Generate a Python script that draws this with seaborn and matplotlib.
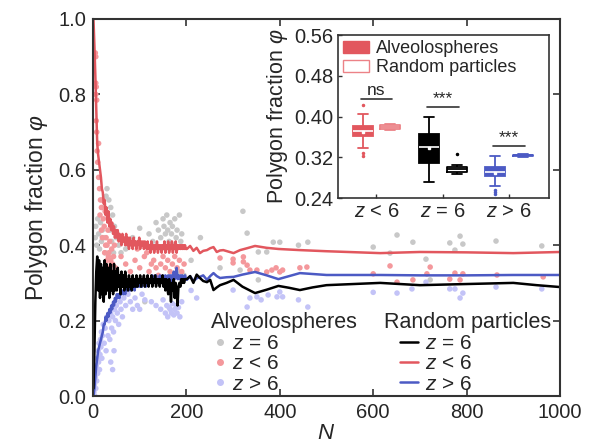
import numpy as np
import pandas as pd
import matplotlib
matplotlib.use("Agg")
import matplotlib.pyplot as plt
from matplotlib.lines import Line2D
from matplotlib.patches import Patch
import seaborn as sns

############### Data ###############
# random particles, dense part: N = 1, 3, ..., 199
N_dense = list(range(1, 200, 2))
rand_lt6_dense = [1.00, 0.93, 0.85, 0.76, 0.67, 0.64, 0.62, 0.60, 0.58, 0.55,
                  0.54, 0.51, 0.52, 0.48, 0.50, 0.46, 0.49, 0.45, 0.47, 0.44,
                  0.46, 0.43, 0.45, 0.42, 0.44, 0.42, 0.44, 0.41, 0.43, 0.42,
                  0.40, 0.43, 0.41, 0.42, 0.40, 0.43, 0.40, 0.42, 0.39, 0.42,
                  0.40, 0.41, 0.39, 0.42, 0.40, 0.41, 0.39, 0.41, 0.40, 0.42,
                  0.39, 0.41, 0.40, 0.41, 0.39, 0.41, 0.40, 0.39, 0.41, 0.39,
                  0.40, 0.38, 0.41, 0.39, 0.40, 0.38, 0.40, 0.39, 0.41, 0.38,
                  0.40, 0.39, 0.40, 0.38, 0.40, 0.39, 0.41, 0.38, 0.40, 0.39,
                  0.41, 0.38, 0.40, 0.39, 0.41, 0.38, 0.40, 0.39, 0.41, 0.38,
                  0.40, 0.39, 0.40, 0.39, 0.40, 0.39, 0.40, 0.39, 0.40, 0.39]
rand_eq6_dense = [0.02, 0.12, 0.25, 0.33, 0.37, 0.28, 0.36, 0.26, 0.35, 0.27,
                  0.34, 0.25, 0.36, 0.27, 0.35, 0.28, 0.34, 0.26, 0.35, 0.28,
                  0.33, 0.27, 0.35, 0.28, 0.33, 0.28, 0.34, 0.29, 0.32, 0.27,
                  0.33, 0.29, 0.32, 0.28, 0.33, 0.29, 0.31, 0.28, 0.32, 0.29,
                  0.31, 0.28, 0.32, 0.29, 0.31, 0.29, 0.32, 0.29, 0.31, 0.30,
                  0.32, 0.29, 0.31, 0.30, 0.32, 0.29, 0.31, 0.30, 0.32, 0.29,
                  0.31, 0.30, 0.32, 0.29, 0.31, 0.30, 0.32, 0.29, 0.31, 0.30,
                  0.31, 0.29, 0.31, 0.30, 0.32, 0.29, 0.31, 0.28, 0.31, 0.29,
                  0.27, 0.31, 0.29, 0.25, 0.30, 0.28, 0.31, 0.26, 0.30, 0.28,
                  0.24, 0.29, 0.30, 0.29, 0.31, 0.30, 0.31, 0.30, 0.31, 0.31]
rand_gt6_dense = [0.00, 0.02, 0.05, 0.08, 0.10, 0.12, 0.13, 0.14, 0.15, 0.16,
                  0.17, 0.19, 0.19, 0.21, 0.20, 0.22, 0.21, 0.23, 0.22, 0.24,
                  0.23, 0.25, 0.24, 0.26, 0.25, 0.27, 0.26, 0.27, 0.26, 0.28,
                  0.27, 0.28, 0.27, 0.28, 0.27, 0.29, 0.28, 0.29, 0.28, 0.29,
                  0.28, 0.30, 0.29, 0.30, 0.28, 0.30, 0.29, 0.30, 0.29, 0.31,
                  0.29, 0.30, 0.29, 0.31, 0.30, 0.31, 0.29, 0.31, 0.30, 0.31,
                  0.30, 0.31, 0.30, 0.32, 0.30, 0.31, 0.30, 0.32, 0.30, 0.31,
                  0.30, 0.32, 0.31, 0.30, 0.32, 0.31, 0.30, 0.32, 0.31, 0.30,
                  0.32, 0.31, 0.32, 0.30, 0.32, 0.31, 0.33, 0.31, 0.32, 0.34,
                  0.31, 0.32, 0.31, 0.32, 0.31, 0.32, 0.31, 0.31, 0.32, 0.31]

# random particles, sparse part (N > 200)
N_late_eq6 = [201, 208, 215, 222, 229, 236, 244, 251, 258, 265, 272, 286, 301, 320,
              347, 372, 397, 420, 443, 470, 500, 560, 615, 700, 800, 900, 950, 1000]
rand_eq6_late = [0.31, 0.318, 0.30, 0.322, 0.313, 0.305, 0.302, 0.308, 0.281, 0.288,
                 0.294, 0.30, 0.308, 0.29, 0.273, 0.282, 0.292, 0.287, 0.281, 0.288,
                 0.294, 0.297, 0.30, 0.294, 0.297, 0.30, 0.294, 0.289]
N_late_lt6 = [201, 208, 215, 222, 229, 236, 244, 251, 258, 265, 272, 279, 290,
              301, 315, 330, 347, 372, 397, 443, 500, 615, 700, 800, 900, 1000]
rand_lt6_late = [0.39, 0.398, 0.385, 0.393, 0.379, 0.385, 0.387, 0.392, 0.395, 0.382,
                 0.386, 0.387, 0.383, 0.379, 0.387, 0.392, 0.398, 0.393, 0.39, 0.387,
                 0.384, 0.379, 0.382, 0.381, 0.379, 0.382]
N_late_gt6 = [201, 208, 215, 222, 229, 236, 244, 251, 258, 265, 272, 286, 301,
              320, 347, 372, 397, 420, 443, 500, 615, 700, 800, 900, 1000]
rand_gt6_late = [0.308, 0.318, 0.305, 0.312, 0.316, 0.32, 0.308, 0.318, 0.326, 0.318,
                 0.313, 0.315, 0.316, 0.322, 0.329, 0.32, 0.31, 0.318, 0.326, 0.321,
                 0.321, 0.32, 0.32, 0.321, 0.321]

# alveolospheres (scatter)
alv_eq6_N = [5, 6, 8, 10, 12, 14, 16, 18, 20, 22,
             24, 26, 28, 30, 32, 34, 36, 38, 40, 42,
             44, 46, 50, 55, 60, 70, 85, 100, 111, 120,
             128, 135, 140, 145, 150, 152, 155, 158, 160, 163,
             165, 168, 170, 173, 175, 178, 180, 183, 185, 188,
             190, 195, 210, 230, 272, 315, 321, 330, 354, 354,
             372, 386, 400, 440, 460, 600, 636, 651, 685, 713,
             722, 764, 775, 786, 792, 863, 961]
alv_eq6 = [0.42, 0.45, 0.40, 0.47, 0.43, 0.39, 0.46, 0.41, 0.44, 0.50,
           0.42, 0.38, 0.53, 0.55, 0.47, 0.52, 0.44, 0.50, 0.41, 0.48,
           0.38, 0.45, 0.42, 0.40, 0.38, 0.39, 0.42, 0.445, 0.25, 0.43,
           0.41, 0.46, 0.44, 0.42, 0.47, 0.45, 0.43, 0.48, 0.44, 0.41,
           0.46, 0.43, 0.45, 0.40, 0.47, 0.42, 0.44, 0.33, 0.48, 0.41,
           0.43, 0.32, 0.36, 0.42, 0.34, 0.334, 0.49, 0.432, 0.382, 0.308,
           0.382, 0.408, 0.408, 0.40, 0.408, 0.395, 0.379, 0.427, 0.408, 0.363,
           0.308, 0.406, 0.387, 0.424, 0.403, 0.411, 0.398]
alv_lt6_N = [5, 6, 6, 7, 6, 8, 7, 8, 12, 9,
             10, 12, 14, 16, 18, 20, 22, 24, 26, 28,
             30, 32, 34, 36, 38, 40, 42, 44, 46, 48,
             30, 25, 35, 20, 15, 18, 27, 33, 39, 45,
             60, 70, 80, 90, 100, 110, 120, 125, 130, 135,
             140, 145, 150, 155, 160, 165, 170, 175, 180, 185,
             190, 195, 115, 95, 272, 300, 300, 322, 322, 330,
             336, 351, 372, 383, 392, 400, 406, 443, 458, 600,
             636, 651, 685, 715, 722, 764, 775, 786, 792, 865,
             964]
alv_lt6 = [0.91, 0.90, 0.83, 0.82, 0.80, 0.785, 0.73, 0.70, 0.67, 0.65,
           0.62, 0.58, 0.55, 0.52, 0.50, 0.52, 0.47, 0.45, 0.49, 0.42,
           0.40, 0.44, 0.38, 0.41, 0.36, 0.39, 0.35, 0.37, 0.40, 0.34,
           0.36, 0.38, 0.34, 0.42, 0.48, 0.44, 0.40, 0.37, 0.35, 0.33,
           0.37, 0.35, 0.33, 0.36, 0.34, 0.37, 0.33, 0.35, 0.36, 0.34,
           0.32, 0.35, 0.37, 0.34, 0.36, 0.33, 0.35, 0.37, 0.34, 0.36,
           0.33, 0.35, 0.38, 0.39, 0.366, 0.363, 0.353, 0.369, 0.356, 0.347,
           0.334, 0.334, 0.329, 0.334, 0.34, 0.329, 0.334, 0.34, 0.342, 0.324,
           0.345, 0.302, 0.308, 0.324, 0.342, 0.31, 0.326, 0.308, 0.324, 0.321,
           0.316]
alv_gt6_N = [2, 3, 4, 5, 6, 7, 8, 9, 10, 11,
             12, 13, 14, 15, 16, 17, 18, 19, 20, 22,
             24, 26, 28, 30, 32, 34, 36, 38, 40, 42,
             44, 46, 48, 50, 52, 55, 58, 60, 63, 66,
             70, 75, 80, 85, 90, 95, 100, 105, 111, 125,
             135, 145, 150, 155, 158, 160, 163, 165, 168, 170,
             173, 175, 178, 180, 183, 186, 190, 38, 45, 42,
             210, 222, 300, 330, 336, 351, 360, 375, 394, 400,
             406, 440, 460, 600, 651, 683, 713, 764, 775, 786,
             792, 863, 961]
alv_gt6 = [0.01, 0.03, 0.00, 0.05, 0.02, 0.08, 0.04, 0.10, 0.06, 0.12,
           0.09, 0.14, 0.07, 0.11, 0.15, 0.13, 0.17, 0.10, 0.16, 0.19,
           0.14, 0.18, 0.12, 0.21, 0.16, 0.20, 0.15, 0.22, 0.18, 0.21,
           0.17, 0.23, 0.20, 0.24, 0.22, 0.19, 0.25, 0.23, 0.21, 0.26,
           0.24, 0.27, 0.25, 0.23, 0.26, 0.24, 0.23, 0.27, 0.255, 0.25,
           0.24, 0.23, 0.255, 0.22, 0.24, 0.21, 0.235, 0.23, 0.22, 0.245,
           0.215, 0.23, 0.24, 0.22, 0.235, 0.21, 0.25, 0.09, 0.12, 0.07,
           0.28, 0.26, 0.281, 0.236, 0.26, 0.263, 0.255, 0.268, 0.263, 0.276,
           0.263, 0.255, 0.236, 0.275, 0.273, 0.284, 0.302, 0.284, 0.284, 0.26,
           0.273, 0.289, 0.284]

# inset box plot samples (chosen so quartiles/whiskers match the picture)
box_groups = ["$z$ < 6", "$z$ = 6", "$z$ > 6"]
alv_box_lt6 = [0.322, 0.328, 0.338, 0.361, 0.364, 0.368, 0.371, 0.375, 0.379, 0.382, 0.392, 0.405, 0.423]
rnd_box_lt6 = [0.373, 0.374, 0.3745, 0.375, 0.377, 0.378, 0.379, 0.380, 0.381, 0.383, 0.384, 0.3845, 0.385]
alv_box_eq6 = [0.271, 0.285, 0.298, 0.309, 0.322, 0.333, 0.341, 0.349, 0.357, 0.365, 0.378, 0.390, 0.400]
rnd_box_eq6 = [0.288, 0.289, 0.290, 0.291, 0.293, 0.295, 0.296, 0.297, 0.299, 0.301, 0.302, 0.304, 0.327]
alv_box_gt6 = [0.247, 0.251, 0.256, 0.264, 0.284, 0.286, 0.288, 0.290, 0.292, 0.294, 0.296,
               0.298, 0.301, 0.306, 0.312, 0.318, 0.323]
rnd_box_gt6 = [0.321, 0.3215, 0.322, 0.3225, 0.323, 0.3235, 0.324, 0.3243, 0.3246, 0.325,
               0.3253, 0.3256, 0.326]
sig_labels = ["ns", "***", "***"]
sig_heights = [0.434, 0.418, 0.342]

RED = "#e2575e"
BLUE = "#4c5ac4"
PINK = "#f4989c"
GRAY = "#c8c8c8"
LBLUE = "#c3c3f7"
SPINE = "#333333"

############### Style ###############
sns.set_style("ticks")
plt.rcParams["font.family"] = ["Liberation Sans", "DejaVu Sans"]
plt.rcParams["mathtext.fontset"] = "custom"
plt.rcParams["mathtext.it"] = "Liberation Sans:italic"
plt.rcParams["mathtext.rm"] = "Liberation Sans"

fig = plt.figure(figsize=(5.94, 4.48), dpi=100)
ax = fig.add_axes([93 / 594, 1 - 396 / 448, 467 / 594, 377 / 448])

############### Main panel ###############
df_pts = pd.concat([
    pd.DataFrame({"N": alv_eq6_N, "phi": alv_eq6, "z": "eq6"}),
    pd.DataFrame({"N": alv_lt6_N, "phi": alv_lt6, "z": "lt6"}),
    pd.DataFrame({"N": alv_gt6_N, "phi": alv_gt6, "z": "gt6"}),
])
sns.scatterplot(data=df_pts, x="N", y="phi", hue="z",
                palette={"eq6": GRAY, "lt6": PINK, "gt6": LBLUE},
                s=16, linewidth=0, legend=False, ax=ax, zorder=1)

df_lines = pd.concat([
    pd.DataFrame({"N": N_dense + N_late_gt6, "phi": rand_gt6_dense + rand_gt6_late, "z": "gt6"}),
    pd.DataFrame({"N": N_dense + N_late_eq6, "phi": rand_eq6_dense + rand_eq6_late, "z": "eq6"}),
    pd.DataFrame({"N": N_dense + N_late_lt6, "phi": rand_lt6_dense + rand_lt6_late, "z": "lt6"}),
])
sns.lineplot(data=df_lines, x="N", y="phi", hue="z", estimator=None, sort=False,
             palette={"eq6": "black", "lt6": RED, "gt6": BLUE},
             linewidth=1.8, legend=False, ax=ax, zorder=2)

ax.set_xlim(0, 1000)
ax.set_ylim(0, 1.0)
ax.set_xticks([0, 200, 400, 600, 800, 1000])
ax.set_yticks([0.0, 0.2, 0.4, 0.6, 0.8, 1.0])
ax.set_yticklabels(["0.0", "0.2", "0.4", "0.6", "0.8", "1.0"])
ax.set_xlabel("$N$", fontsize=16, labelpad=1)
ax.set_ylabel(r"Polygon fraction $\varphi$", fontsize=16.5, labelpad=6)
ax.tick_params(direction="in", top=True, right=True, length=5, width=1.2,
               labelsize=14.5, color=SPINE, pad=5)
for sp in ax.spines.values():
    sp.set_color(SPINE)
    sp.set_linewidth(1.5)

# legends
labels = ["$z$ = 6", "$z$ < 6", "$z$ > 6"]
alv_handles = [Line2D([], [], marker="o", ls="none", color=c, markersize=4)
               for c in [GRAY, PINK, LBLUE]]
rnd_handles = [Line2D([], [], color=c, lw=1.8) for c in ["black", RED, BLUE]]
fig.text(211 / 594, 1 - 322 / 448, "Alveolospheres", fontsize=15.5, va="center", ha="left")
fig.text(384 / 594, 1 - 322 / 448, "Random particles", fontsize=15.5, va="center", ha="left")
leg1 = ax.legend(alv_handles, labels, loc="upper left", bbox_to_anchor=(212 / 594, 1 - 334 / 448),
                 bbox_transform=fig.transFigure, frameon=False, fontsize=15,
                 handlelength=0.8, handletextpad=0.16, labelspacing=0.06,
                 borderpad=0, borderaxespad=0)
ax.add_artist(leg1)
ax.legend(rnd_handles, labels, loc="upper left", bbox_to_anchor=(400 / 594, 1 - 334 / 448),
          bbox_transform=fig.transFigure, frameon=False, fontsize=15,
          handlelength=0.87, handletextpad=0.34, labelspacing=0.06,
          borderpad=0, borderaxespad=0)

############### Inset ###############
axin = fig.add_axes([338 / 594, 1 - 198 / 448, 211 / 594, 163 / 448])
boxes = [
    (-0.21, alv_box_lt6, RED, True), (0.21, rnd_box_lt6, "#ec8287", False),
    (0.79, alv_box_eq6, "black", True), (1.21, rnd_box_eq6, "black", False),
    (1.79, alv_box_gt6, BLUE, True), (2.21, rnd_box_gt6, BLUE, False),
]
for pos, vals, col, filled in boxes:
    kw = dict(x=[pos] * len(vals), y=vals, native_scale=True, orient="x", width=0.3,
              ax=axin, linewidth=1.3, whis=1.5,
              flierprops=dict(marker="o", markersize=1.5, markerfacecolor=col,
                              markeredgecolor=col))
    if filled:
        sns.boxplot(color=col, linecolor=col, saturation=1,
                    medianprops=dict(color="white", linewidth=1.2),
                    showmeans=True,
                    meanprops=dict(marker="s", markersize=2, markerfacecolor="white",
                                   markeredgecolor="white"), **kw)
    else:
        sns.boxplot(color=col, linecolor=col, fill=False, **kw)

for i, (lab, h) in enumerate(zip(sig_labels, sig_heights)):
    axin.plot([i - 0.24, i + 0.24], [h, h], color=SPINE, lw=1.2)
    axin.text(i, h + 0.002, lab, ha="center", va="bottom", fontsize=12.5)

axin.set_xlim(-0.58, 2.6)
axin.set_ylim(0.24, 0.56)
axin.set_xticks([0, 1, 2])
axin.set_xticklabels(box_groups)
axin.set_yticks([0.24, 0.32, 0.40, 0.48, 0.56])
axin.set_yticklabels(["0.24", "0.32", "0.40", "0.48", "0.56"])
axin.set_xlabel("")
axin.set_ylabel(r"Polygon fraction $\varphi$", fontsize=15.5, labelpad=3)
axin.tick_params(direction="in", length=3, width=1, labelsize=14.5, color=SPINE, pad=3)
for sp in axin.spines.values():
    sp.set_color(SPINE)
    sp.set_linewidth(1.2)

inset_handles = [Patch(facecolor=RED, edgecolor=RED), Patch(facecolor="white", edgecolor="#ec8287")]
axin.legend(inset_handles, ["Alveolospheres", "Random particles"], loc="upper left",
            frameon=False, fontsize=13, handlelength=1.4, handletextpad=0.4,
            labelspacing=0.1, borderaxespad=0.2, borderpad=0.1)

fig.savefig("out.png", dpi=100)
